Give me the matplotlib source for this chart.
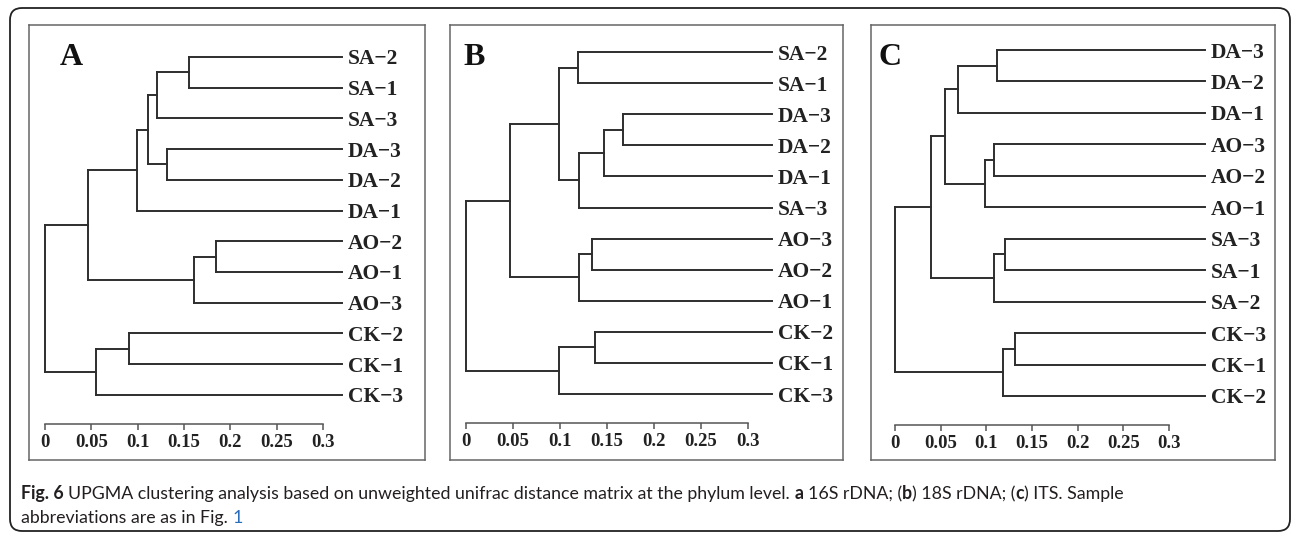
import matplotlib
matplotlib.use("Agg")
import matplotlib.pyplot as plt
from matplotlib.patches import FancyBboxPatch
from matplotlib.transforms import IdentityTransform

W, H = 1292, 534

# leaf order (top to bottom) and merges (child, child, height); new nodes get ids 12, 13, ...
labels_a = ['SA−2', 'SA−1', 'SA−3', 'DA−3', 'DA−2', 'DA−1',
            'AO−2', 'AO−1', 'AO−3', 'CK−2', 'CK−1', 'CK−3']
merges_a = [(0, 1, 0.155), (12, 2, 0.121), (3, 4, 0.132), (13, 14, 0.111),
            (15, 5, 0.099), (6, 7, 0.185), (17, 8, 0.161), (16, 18, 0.046),
            (9, 10, 0.091), (20, 11, 0.055), (19, 21, 0.0)]
leaf_end_a = 0.3205

labels_b = ['SA−2', 'SA−1', 'DA−3', 'DA−2', 'DA−1', 'SA−3',
            'AO−3', 'AO−2', 'AO−1', 'CK−2', 'CK−1', 'CK−3']
merges_b = [(0, 1, 0.119), (2, 3, 0.167), (13, 4, 0.147), (14, 5, 0.120),
            (12, 15, 0.099), (6, 7, 0.134), (17, 8, 0.120), (16, 18, 0.047),
            (9, 10, 0.137), (20, 11, 0.099), (19, 21, 0.0)]
leaf_end_b = 0.3255

labels_c = ['DA−3', 'DA−2', 'DA−1', 'AO−3', 'AO−2', 'AO−1',
            'SA−3', 'SA−1', 'SA−2', 'CK−3', 'CK−1', 'CK−2']
merges_c = [(0, 1, 0.112), (12, 2, 0.069), (3, 4, 0.108), (14, 5, 0.098),
            (13, 15, 0.055), (6, 7, 0.120), (17, 8, 0.108), (16, 18, 0.039),
            (9, 10, 0.131), (20, 11, 0.118), (19, 21, 0.0)]
leaf_end_c = 0.3394

panel_letters = ['A', 'B', 'C']
ticks = [0, 0.05, 0.1, 0.15, 0.2, 0.25, 0.3]
tick_labels = ['0', '0.05', '0.1', '0.15', '0.2', '0.25', '0.3']

# pixel layout: box (x0, y0, x1, y1), tree (x of 0, x of 0.3, y of first leaf, y of axis, leaf step), letter x
layout = [
    dict(box=(29, 25, 425, 460), tree=(45, 323, 57, 424, 30.7), letter=60),
    dict(box=(450, 25, 843, 460), tree=(466, 748, 52, 423, 31.1), letter=463),
    dict(box=(871, 25, 1275, 460), tree=(895, 1169, 50, 425, 31.45), letter=878),
]

SERIF = 'Liberation Serif'
LINE = '#2e2e2e'


def px_axes(fig, x0, y0, x1, y1):
    return fig.add_axes([x0 / W, 1 - y1 / H, (x1 - x0) / W, (y1 - y0) / H])


def draw_tree(ax, labels, merges, leaf_end):
    xs = [leaf_end] * len(labels)
    ys = list(range(len(labels)))
    for a, b, h in merges:
        for c in (a, b):
            ax.plot([xs[c], h], [ys[c], ys[c]], color=LINE, lw=1.4, clip_on=False)
        ax.plot([h, h], [ys[a], ys[b]], color=LINE, lw=1.4, clip_on=False)
        xs.append(h)
        ys.append((ys[a] + ys[b]) / 2)
    for i, lab in enumerate(labels):
        ax.annotate(lab, (leaf_end, i), xytext=(4, 0), textcoords='offset points',
                    va='center_baseline', ha='left', fontfamily=SERIF,
                    fontweight='bold', fontsize=15.5, color='#222222',
                    annotation_clip=False)


fig = plt.figure(figsize=(W / 100, H / 100), dpi=100)

# rounded outer frame
frame = FancyBboxPatch((10, H - 531), 1280, 523, boxstyle='round,pad=0,rounding_size=12',
                       transform=IdentityTransform(), fill=False, lw=1.3, ec='#222222')
fig.add_artist(frame)

panels = [(labels_a, merges_a, leaf_end_a), (labels_b, merges_b, leaf_end_b),
          (labels_c, merges_c, leaf_end_c)]

for (labels, merges, leaf_end), lay, letter in zip(panels, layout, panel_letters):
    bx = px_axes(fig, *lay['box'])
    bx.set_xticks([])
    bx.set_yticks([])
    for s in bx.spines.values():
        s.set_color('#666666')
        s.set_linewidth(1.1)
    bx.patch.set_alpha(0)

    x0, x1, ytop, yaxis, step = lay['tree']
    ax = px_axes(fig, x0, ytop, x1, yaxis)
    ax.patch.set_alpha(0)
    ax.set_xlim(0, 0.3)
    ax.set_ylim((yaxis - ytop) / step, 0)
    for side in ('top', 'right', 'left'):
        ax.spines[side].set_visible(False)
    ax.spines['bottom'].set_bounds(0, 0.3)
    ax.spines['bottom'].set_color('#555555')
    ax.spines['bottom'].set_linewidth(1.1)
    ax.set_yticks([])
    ax.set_xticks(ticks)
    ax.set_xticklabels(tick_labels, fontfamily=SERIF, fontweight='bold', fontsize=13.5,
                       color='#222222')
    ax.tick_params(axis='x', direction='out', length=4, width=1.1, color='#555555', pad=3)
    draw_tree(ax, labels, merges, leaf_end)

    fig.text(lay['letter'] / W, 1 - 65 / H, letter, fontfamily=SERIF, fontweight='bold',
             fontsize=23, ha='left', va='baseline', color='#111111')

# caption, drawn piece by piece
renderer = fig.canvas.get_renderer()
CAP = dict(fontfamily='Lato', fontsize=12.8, color='#231f20')


def space_width(kw):
    t1 = fig.text(0, 0, 'x x', **kw)
    t2 = fig.text(0, 0, 'xx', **kw)
    w = t1.get_window_extent(renderer).width - t2.get_window_extent(renderer).width
    t1.remove()
    t2.remove()
    return w


def put_row(pieces, x, y):
    for text, extra in pieces:
        kw = dict(CAP, **extra)
        lead = len(text) - len(text.lstrip(' '))
        trail = len(text) - len(text.rstrip(' '))
        sw = space_width(kw)
        x += lead * sw
        core = text.strip(' ')
        if core:
            t = fig.text(x / W, 1 - y / H, core, va='baseline', ha='left', **kw)
            x += t.get_window_extent(renderer).width
        x += trail * sw


bold = dict(fontweight='bold')
reg = {}
line1 = [('Fig. 6', bold),
         (' UPGMA clustering analysis based on unweighted unifrac distance matrix at the phylum level. ', reg),
         ('a', bold), (' 16S rDNA; (', reg), ('b', bold), (') 18S rDNA; (', reg),
         ('c', bold), (') ITS. Sample', reg)]
line2 = [('abbreviations are as in Fig. ', reg), ('1', dict(color='#2a6ebb'))]
put_row(line1, 21, 499)
put_row(line2, 21, 523)

fig.savefig('out.png', dpi=100)
